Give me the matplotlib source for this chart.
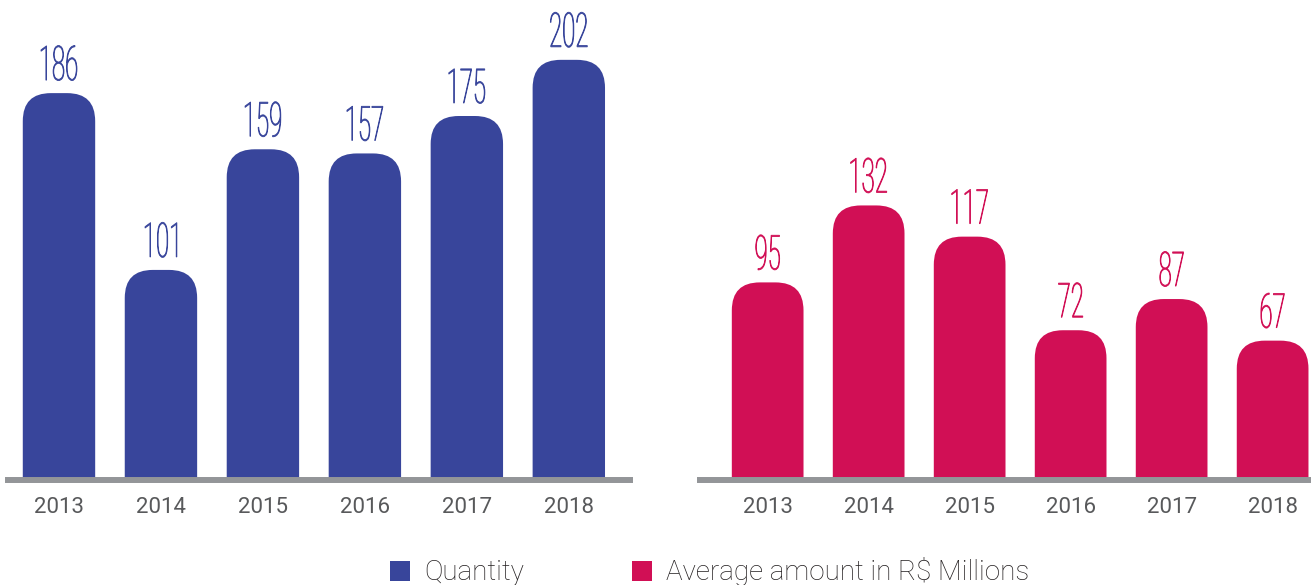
import matplotlib.pyplot as plt
from matplotlib.patches import FancyBboxPatch, PathPatch, Patch
from matplotlib.textpath import TextPath
from matplotlib.font_manager import FontProperties
from matplotlib.transforms import Affine2D, ScaledTranslation

years = ["2013", "2014", "2015", "2016", "2017", "2018"]
quantity = [186, 101, 159, 157, 175, 202]
avg_amount = [95, 132, 117, 72, 87, 67]

BLUE = "#38459b"
RED = "#d10f55"
GRAY = "#939598"
TXT = "#58595b"

W, H = 1311, 585
fig = plt.figure(figsize=(W / 100, H / 100), dpi=100)

YMAX = 480 / 2.08
RADIUS_PX = 28
num_font = FontProperties(family="Roboto", weight="light")


def px_axes(l, r, b, t):
    return fig.add_axes([l / W, (H - b) / H, (r - l) / W, (b - t) / H])


def draw_panel(ax, vals, color, xlim):
    x = list(range(len(vals)))
    ax.set_xlim(*xlim)
    ax.set_ylim(0, YMAX)
    bbox = ax.get_window_extent()
    px_x = bbox.width / (xlim[1] - xlim[0])
    px_y = bbox.height / YMAX
    rx = RADIUS_PX / px_x
    ry = RADIUS_PX / px_y
    width = 0.71
    for xi, v in zip(x, vals):
        p = FancyBboxPatch((xi - width / 2, -ry), width, v + ry,
                           boxstyle="round,pad=0,rounding_size=%f" % rx,
                           mutation_aspect=ry / rx, fc=color, ec="none")
        ax.add_patch(p)
        # condensed value label
        tp = TextPath((0, 0), str(v), size=48, prop=num_font)
        ext = tp.get_extents()
        cx = (ext.x0 + ext.x1) / 2
        tr = (Affine2D().translate(-cx, 0).scale(0.5, 1).translate(0, 13)
              + ScaledTranslation(xi, v, ax.transData))
        ax.add_artist(PathPatch(tp, transform=tr, fc=color, ec=color, lw=0.6,
                                clip_on=False))
    ax.axhline(0, color=GRAY, lw=4.3, clip_on=False, zorder=5)
    ax.set_xticks(x)
    ax.set_xticklabels(years, fontsize=16, color=TXT, family="Roboto")
    ax.tick_params(axis="x", length=0, pad=12)
    ax.set_yticks([])
    for s in ax.spines.values():
        s.set_visible(False)


ax1 = px_axes(8, 630, 480, 0)
draw_panel(ax1, quantity, BLUE, (-0.5, 5.6))
ax2 = px_axes(700, 1311, 480, 0)
draw_panel(ax2, avg_amount, RED, (-0.67, 5.38))

handles = [Patch(fc=BLUE, ec="none", label="Quantity"),
           Patch(fc=RED, ec="none", label="Average amount in R$ Millions")]
fig.legend(handles=handles, loc="center", bbox_to_anchor=(710 / W, 13 / H),
           ncol=2, frameon=False, handlelength=0.72, handleheight=0.72,
           handletextpad=0.5, columnspacing=3.9,
           prop=FontProperties(family="Roboto", weight="light", size=20),
           labelcolor="#231f20")

fig.savefig("out.png", dpi=100)
